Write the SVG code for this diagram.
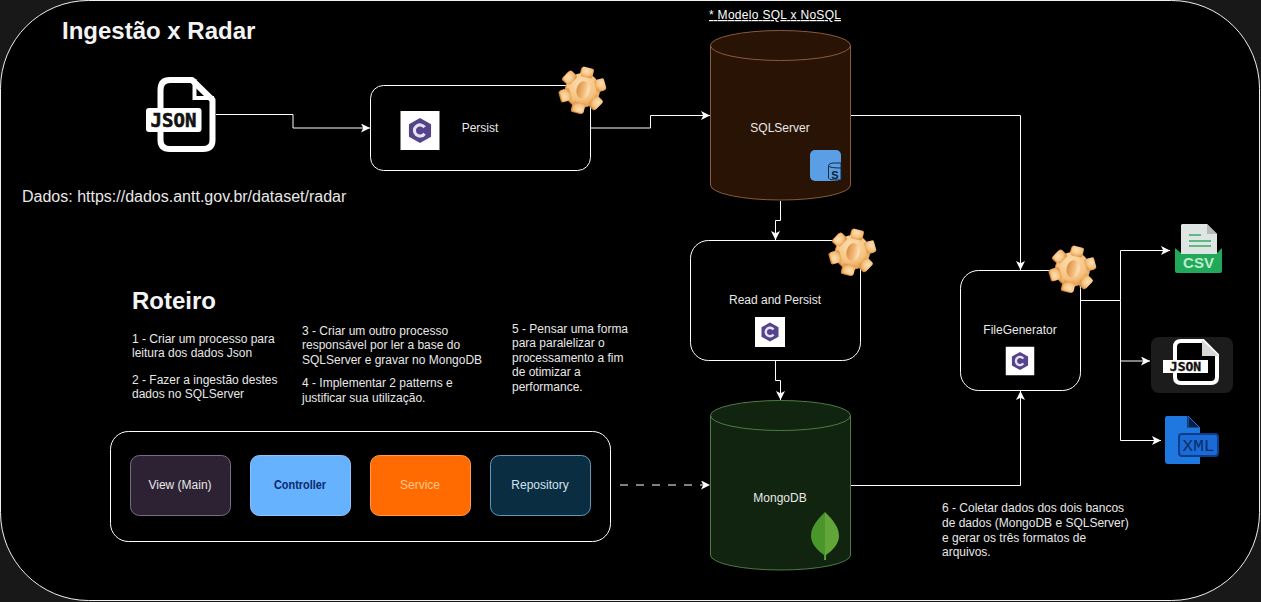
<svg xmlns="http://www.w3.org/2000/svg" width="1261" height="602" viewBox="0 0 1261 602">
<style>
text{font-family:"Liberation Sans",Arial,sans-serif;fill:#e8e8e8}
.s12{font-size:12px}.c{text-anchor:middle}
.mono{font-family:"DejaVu Sans Mono","Liberation Mono",monospace;font-weight:700;fill:#111}
.box{fill:#000;stroke:#fff;stroke-width:1}
.cn{fill:none;stroke:#fff;stroke-width:1;marker-end:url(#a)}
</style>
<defs>
<marker id="a" viewBox="0 0 10 10" refX="10" refY="5" markerWidth="9" markerHeight="9" markerUnits="userSpaceOnUse" orient="auto"><path d="M0 0L10 5L0 10L2.500 5Z" fill="#fff"/></marker>
<radialGradient id="g" cx=".4" cy=".35" r=".7"><stop offset="0" stop-color="#fde0b4"/><stop offset=".65" stop-color="#f6c27f"/><stop offset="1" stop-color="#e09a4c"/></radialGradient>
<linearGradient id="h" x1="0" x2="1"><stop offset="0" stop-color="#d98f42"/><stop offset=".6" stop-color="#f4bd7c"/><stop offset="1" stop-color="#ffe7c6"/></linearGradient>
<g id="teeth"><circle r="17"/><rect x="-6" y="-23" width="12" height="10" rx="2"/><rect x="-6" y="-23" width="12" height="10" rx="2" transform="rotate(60)"/><rect x="-6" y="-23" width="12" height="10" rx="2" transform="rotate(120)"/><rect x="-6" y="-23" width="12" height="10" rx="2" transform="rotate(180)"/><rect x="-6" y="-23" width="12" height="10" rx="2" transform="rotate(240)"/><rect x="-6" y="-23" width="12" height="10" rx="2" transform="rotate(300)"/></g>
<g id="gear"><g transform="rotate(14)"><use href="#teeth" fill="#d98a3c" x="-1" y="1"/><use href="#teeth" fill="url(#g)"/></g><ellipse rx="6.500" ry="9" fill="url(#h)" transform="rotate(12)"/></g>
<g id="cs"><rect x="-15" y="-15" width="30" height="30" fill="#fff"/><path d="M0-9.600L8.500-4.800L8.500 4.800L0 9.600L-8.500 4.800L-8.500-4.800Z" fill="#55438c"/><path d="M3.500-2.500A4.300 4.300 0 1 0 3.500 2.500" fill="none" stroke="#e6e2f2" stroke-width="2.400"/></g>
</defs>
<rect width="1261" height="602" fill="#181818"/>
<rect x="0.500" y="0.500" width="1259" height="600" rx="88" ry="88" fill="#000" stroke="#f0f0f0"/>
<text x="62" y="39" font-size="24" font-weight="700" style="fill:#f4f4f4">Ingestão x Radar</text>
<text x="22" y="202" font-size="16">Dados: https://dados.antt.gov.br/dataset/radar</text>
<text x="132" y="309" font-size="24" font-weight="700" style="fill:#f4f4f4">Roteiro</text>
<text x="132" y="343" class="s12">1 - Criar um processo para</text><text x="132" y="357" class="s12">leitura dos dados Json</text>
<text x="132" y="384" class="s12">2 - Fazer a ingestão destes</text><text x="132" y="398" class="s12">dados no SQLServer</text>
<text x="302" y="335" class="s12">3 - Criar um outro processo</text><text x="302" y="349" class="s12">responsável por ler a base do</text><text x="302" y="364" class="s12">SQLServer e gravar no MongoDB</text>
<text x="302" y="387" class="s12">4 - Implementar 2 patterns e</text><text x="302" y="402" class="s12">justificar sua utilização.</text>
<text x="512" y="333" class="s12">5 - Pensar uma forma</text><text x="512" y="347" class="s12">para paralelizar o</text><text x="512" y="362" class="s12">processamento a fim</text><text x="512" y="376" class="s12">de otimizar a</text><text x="512" y="391" class="s12">performance.</text>
<text x="942" y="512" class="s12">6 - Coletar dados dos dois bancos</text><text x="942" y="527" class="s12">de dados (MongoDB e SQLServer)</text><text x="942" y="542" class="s12">e gerar os três formatos de</text><text x="942" y="556" class="s12">arquivos.</text>
<text x="709" y="19" class="s12" text-decoration="underline" textLength="132" style="fill:#fff">* Modelo SQL x NoSQL</text>
<g id="connectors">
<path class="cn" d="M216 114.500H293V128H370"/>
<path class="cn" d="M591 128H650.500V115.500H710"/>
<path class="cn" d="M780.500 201V220.500H775.500V240"/>
<path class="cn" d="M775.500 361V380.500H780.500V400"/>
<path class="cn" d="M851 115.500H1020.500V270"/>
<path class="cn" d="M851 485.500H1020.500V391"/>
<path class="cn" d="M1081 300.500H1120.500V250.500H1170"/>
<path class="cn" d="M1120.500 300.500V361H1150"/>
<path class="cn" d="M1120.500 361V440.500H1161"/>
<path class="cn" stroke-dasharray="8 8" d="M620 485H710"/>
</g>
<g id="json-source"><path d="M160.500 90Q160.500 80 170 80H192L212.500 100V140Q212.500 149 203 149H170Q160.500 149 160.500 140Z" fill="none" stroke="#fff" stroke-width="6" stroke-linejoin="round"/><path d="M194.500 79V98H214" fill="none" stroke="#fff" stroke-width="4"/><rect x="146" y="108" width="55.500" height="24" rx="3" fill="#fff"/><text x="173.500" y="127" class="c mono" font-size="19" stroke="#111" stroke-width=".6">JSON</text></g>
<g id="persist"><rect class="box" x="370.500" y="85.500" width="220" height="85" rx="13"/><use href="#cs" transform="translate(420 130.500) scale(1.3)"/><text x="480" y="132" class="s12 c">Persist</text><use href="#gear" x="583" y="90"/></g>
<g id="sqlserver"><path d="M710.500 45.500V185A70 15 0 0 0 850.500 185V45.500A70 15 0 0 0 710.500 45.500Z" fill="#281305" stroke="#8a5a3c"/><path d="M710.500 45.500A70 15 0 0 0 850.500 45.500" fill="none" stroke="#8a5a3c"/><text x="780" y="132" class="s12 c">SQLServer</text><rect x="810" y="150" width="31" height="31" rx="5" fill="#5a9fe6"/><path d="M828.500 166V178Q828.500 180 834.500 180H841V163H834.500Q828.500 163 828.500 166Z" fill="#5a9fe6" stroke="#15293d"/><path d="M828.500 166Q830 168 841 168" fill="none" stroke="#15293d"/><text x="835" y="179" font-size="11" font-weight="700" class="c" style="fill:#0f2233">S</text></g>
<g id="readpersist"><rect class="box" x="690.500" y="240.500" width="170" height="120" rx="18"/><text x="775" y="304" class="s12 c">Read and Persist</text><use href="#cs" x="770" y="332"/><use href="#gear" x="853" y="252"/></g>
<g id="filegen"><rect class="box" x="960.500" y="270.500" width="120" height="120" rx="18"/><text x="1020" y="334" class="s12 c">FileGenerator</text><use href="#cs" transform="translate(1020 361) scale(.95)"/><use href="#gear" x="1073" y="269"/></g>
<g id="mongodb"><path d="M710.500 415.500V555A70 15 0 0 0 850.500 555V415.500A70 15 0 0 0 710.500 415.500Z" fill="#10240f" stroke="#4f7a45"/><path d="M710.500 415.500A70 15 0 0 0 850.500 415.500" fill="none" stroke="#4f7a45"/><text x="780" y="502" class="s12 c">MongoDB</text><path d="M825 512C833 520 839 527 839 536C839 544 832 551 826 555V560H825Z" fill="#62a63a"/><path d="M825 512C817 520 811 527 811 536C811 544 818 551 824 555V560H825Z" fill="#4a962a"/></g>
<g id="pattern"><rect class="box" x="110.500" y="431.500" width="500" height="110" rx="18"/></g>
<g id="view"><rect x="130.500" y="455.500" width="100" height="60" rx="9" fill="#2d2233" stroke="#7b6b85"/><text x="180" y="489" class="s12 c">View (Main)</text></g>
<g id="controller"><rect x="250.500" y="455.500" width="100" height="60" rx="9" fill="#66b2ff" stroke="#8cc4ff"/><text x="274" y="489" class="s12" textLength="52" lengthAdjust="spacingAndGlyphs" style="fill:#0a2a6a;font-weight:700">Controller</text></g>
<g id="service"><rect x="370.500" y="455.500" width="100" height="60" rx="9" fill="#ff6b00" stroke="#ff9a50"/><text x="420" y="489" class="s12 c" style="fill:#ffc890">Service</text></g>
<g id="repository"><rect x="490.500" y="455.500" width="100" height="60" rx="9" fill="#0a2d42" stroke="#5f9ab8"/><text x="540" y="489" class="s12 c" style="fill:#d0e4ee">Repository</text></g>
<g id="csv"><path d="M1175 248L1181 253H1217L1222 248V271Q1222 273 1220 273H1177Q1175 273 1175 271Z" fill="#21a85a"/><path d="M1182 224H1207L1217 234V254H1181V225Z" fill="#dfe5e3"/><path d="M1207 224V234H1217Z" fill="#b5baba"/><path d="M1189 235H1201M1189 241H1211M1189 246H1211" stroke="#3aa868" stroke-width="1.500"/><text x="1198.500" y="268" class="c" font-size="15" font-weight="700" style="fill:#bdeccd">CSV</text></g>
<g id="json-out"><rect x="1151" y="337" width="82" height="56" rx="8" fill="#1c1c1c"/><path d="M1181 341H1203L1217 355V377Q1217 383 1211 383H1181Q1175 383 1175 377V347Q1175 341 1181 341Z" fill="#000" stroke="#fff" stroke-width="4"/><path d="M1202 340V356H1219Z" fill="#d8d8d8"/><rect x="1163" y="360" width="45" height="13" fill="#fff"/><text x="1185.500" y="371" class="c mono" font-size="13" stroke="#111" stroke-width=".4">JSON</text></g>
<g id="xml"><path d="M1167 416H1187V428H1200V464H1168Q1165 464 1165 461V419Q1165 416 1167 416Z" fill="#1e78e0"/><path d="M1188 416L1200 428H1188Z" fill="#0a1d44" stroke="#1e78e0"/><rect x="1179" y="434" width="39" height="22" rx="3" fill="#1a6ad8" stroke="#0d3d88" stroke-width="2"/><text x="1198.500" y="451" class="c" font-size="16" textLength="32" lengthAdjust="spacingAndGlyphs" style="fill:#0a2d66;font-family:'Liberation Mono',monospace;font-weight:400">XML</text></g>
</svg>
